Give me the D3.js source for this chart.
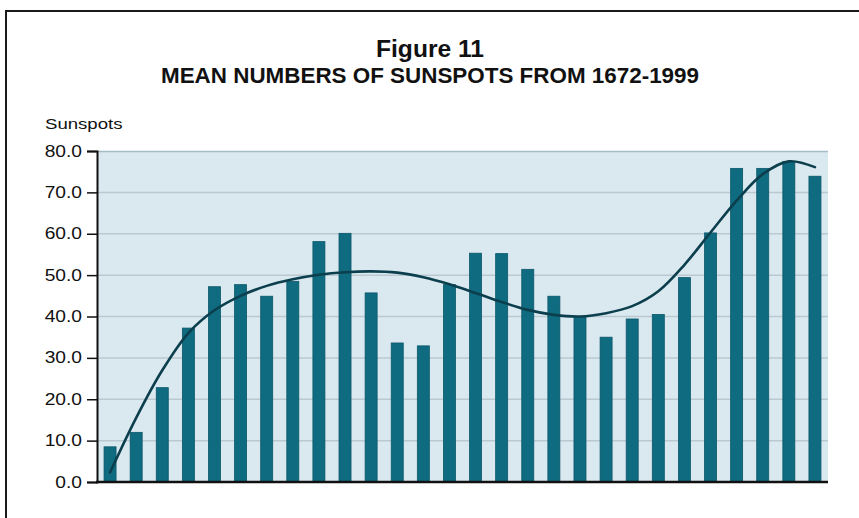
<!DOCTYPE html>
<html lang="en">
<head>
    <meta charset="UTF-8">
    <title>Mean Numbers of Sunspots from 1672-1999</title>
    <script src="https://d3js.org/d3.v7.min.js"></script>
    <style>
        html, body {
            margin: 0;
            padding: 0;
            overflow: hidden;
            background-color: #ffffff;
        }
        svg {
            display: block;
        }
        svg text {
            font-family: 'Liberation Sans', Arial, sans-serif;
            fill: #111;
        }
        .title {
            font-weight: bold;
        }
        .axis path, .axis line {
            stroke: #111;
        }
    </style>
</head>
<body>
    <div id="chart"></div>
    <script>
        // Data: one bar per solar cycle, plus the fitted trend line
        const cycles = [1, 2, 3, 4, 5, 6, 7, 8, 9, 10, 11, 12, 13, 14,
                        15, 16, 17, 18, 19, 20, 21, 22, 23, 24, 25, 26, 27, 28];
        const sunspots = [8.5, 12.0, 22.8, 37.2, 47.2, 47.7, 44.9, 48.5, 58.1, 60.1,
                          45.7, 33.6, 32.9, 47.7, 55.3, 55.2, 51.4, 44.9, 40.0, 35.0,
                          39.4, 40.5, 49.4, 60.2, 75.8, 75.8, 77.4, 73.9];
        const trend = [2.3, 15.5, 27.0, 36.0, 41.5, 45.0, 47.4, 49.0, 50.1, 50.7,
                       50.9, 50.6, 49.5, 47.8, 45.7, 43.5, 41.6, 40.4, 40.0, 40.8,
                       42.5, 46.1, 52.5, 60.3, 68.0, 74.4, 77.5, 76.1];
        const yTicks = [0, 10, 20, 30, 40, 50, 60, 70, 80];
        const titleLines = ["Figure 11", "MEAN NUMBERS OF SUNSPOTS FROM 1672-1999"];
        const yLabel = "Sunspots";

        const W = 859, H = 518;
        const margin = {top: 151, right: 31, bottom: 36, left: 97};
        const width = W - margin.left - margin.right,
              height = H - margin.top - margin.bottom;
        const sx = 1.2; // axis lettering is stretched sideways in the source

        const svg = d3.select("#chart")
            .append("svg")
            .attr("width", W)
            .attr("height", H);

        // outer frame (only top and left edges show)
        svg.append("path")
            .attr("d", `M6,${H}V11H${W}`)
            .attr("fill", "none")
            .attr("stroke", "#1a1a1a")
            .attr("stroke-width", 2);

        // title
        svg.selectAll(".title")
            .data(titleLines)
            .join("text")
            .attr("class", "title")
            .attr("x", 430)
            .attr("y", (d, i) => i === 0 ? 57 : 83)
            .attr("text-anchor", "middle")
            .style("font-size", (d, i) => i === 0 ? "23px" : "22px")
            .attr("textLength", (d, i) => i === 0 ? 108 : 538)
            .attr("lengthAdjust", "spacingAndGlyphs")
            .text(d => d);

        const g = svg.append("g")
            .attr("transform", `translate(${margin.left},${margin.top})`);

        const x = d3.scaleBand()
            .domain(cycles)
            .range([0, width])
            .paddingInner(0.54)
            .paddingOuter(0.27);
        const y = d3.scaleLinear()
            .domain([0, 80])
            .range([height, 0]);

        // plot background
        g.append("rect")
            .attr("width", width)
            .attr("height", height)
            .attr("fill", "#dae8ef");
        g.append("line")
            .attr("x1", 0).attr("x2", width)
            .attr("y1", 0.5).attr("y2", 0.5)
            .attr("stroke", "#a5bbc6")
            .attr("stroke-width", 1.5);

        // grid lines
        g.selectAll(".grid")
            .data(yTicks.filter(d => d > 0 && d < 80))
            .join("line")
            .attr("class", "grid")
            .attr("x1", 0).attr("x2", width)
            .attr("y1", d => y(d)).attr("y2", d => y(d))
            .attr("stroke", "#bac9d1")
            .attr("stroke-width", 1.5);

        // bars
        g.selectAll(".bar")
            .data(sunspots)
            .join("rect")
            .attr("class", "bar")
            .attr("x", (d, i) => x(cycles[i]))
            .attr("y", d => y(d))
            .attr("width", x.bandwidth())
            .attr("height", d => height - y(d))
            .attr("fill", "#0f6b80")
            .attr("stroke", "#0b586a")
            .attr("stroke-width", 0.8);

        // trend curve
        const line = d3.line()
            .x((d, i) => x(cycles[i]) + x.bandwidth() / 2)
            .y(d => y(d))
            .curve(d3.curveCatmullRom);
        g.append("path")
            .datum(trend)
            .attr("d", line)
            .attr("fill", "none")
            .attr("stroke", "#0c3f4d")
            .attr("stroke-width", 2.6)
            .attr("stroke-linecap", "round");

        // axes
        const yAxis = g.append("g")
            .attr("class", "axis")
            .call(d3.axisLeft(y).tickValues(yTicks).tickSize(10).tickFormat(d3.format(".1f")));
        yAxis.select(".domain").attr("stroke-width", 2);
        yAxis.selectAll(".tick line").attr("stroke-width", 1.5);
        yAxis.selectAll(".tick text")
            .attr("x", -15 / sx)
            .attr("transform", `scale(${sx},1)`)
            .style("font-size", "16px")
            .style("fill", "#111");

        g.append("line")
            .attr("x1", -1).attr("x2", width)
            .attr("y1", height).attr("y2", height)
            .attr("stroke", "#111")
            .attr("stroke-width", 2.5);

        // y axis title
        svg.append("text")
            .attr("transform", `translate(45,129) scale(${sx},1)`)
            .style("font-size", "15.5px")
            .text(yLabel);
    </script>
</body>
</html>
